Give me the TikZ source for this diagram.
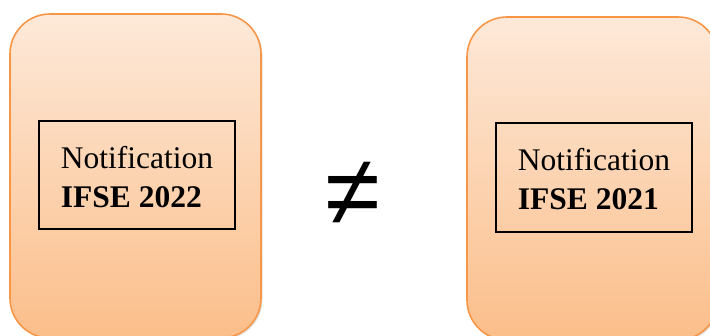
\documentclass[tikz,border=0pt]{standalone}
\usepackage{fontspec}
\setmainfont{Liberation Serif}
\newfontfamily\symfont{Liberation Sans}
\usetikzlibrary{shadows}
\definecolor{boxtop}{HTML}{FDE9D9}
\definecolor{boxbot}{HTML}{FBBE8A}
\definecolor{boxedge}{HTML}{F79646}
\tikzset{
  bigbox/.style={draw=boxedge, line width=1.6pt, rounded corners=40pt,
    top color=boxtop, bottom color=boxbot, minimum width=251pt,
    drop shadow={shadow xshift=1.5pt, shadow yshift=-1.5pt, opacity=0.25}},
  textbox/.style={draw=black, line width=1.6pt, minimum width=196pt,
    minimum height=108pt, inner sep=0pt},
  label/.style={align=left, font=\fontsize{31.5}{39}\selectfont, inner sep=0pt}
}
\begin{document}
\begin{tikzpicture}[x=1pt,y=-1pt]
\useasboundingbox (0,0) rectangle (710,336);
\clip (0,0) rectangle (710,336);
\node[bigbox, minimum height=324pt] (L) at (135.5,176) {};
\node[bigbox, minimum height=323pt] (R) at (592.5,178.5) {};
\node[textbox] (Lt) at (137,175) {};
\node[textbox, minimum height=109pt] (Rt) at (594,177.5) {};
\node[label] (Ltxt) at (137,177) {Notification\\\textbf{IFSE 2022}};
\node[label] (Rtxt) at (594,179) {Notification\\\textbf{IFSE 2021}};
\node[font=\symfont\fontsize{100}{100}\selectfont, inner sep=0pt] (ne) at (353,194) {≠};
\end{tikzpicture}
\end{document}
